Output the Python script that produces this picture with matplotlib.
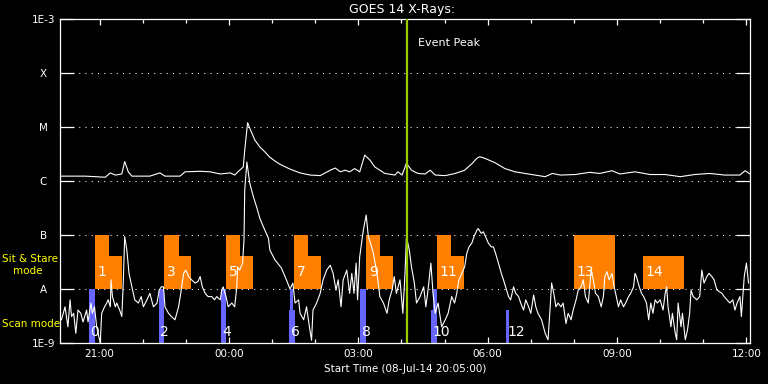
import numpy as np
import matplotlib
matplotlib.use('Agg')
import matplotlib.pyplot as plt
from matplotlib.ticker import MultipleLocator, FuncFormatter
import matplotlib.transforms as mtransforms

# time axis: hours of day, plot starts 08-Jul-14 20:05
t_start = 20 + 5 / 60.
t_end = t_start + 16

# GOES 14 long channel (1-8 A): minutes after start, log10 flux (W/m^2)
long_min = [0, 35, 63, 70, 77, 86, 90, 95, 100, 125, 139, 146, 167, 174, 195, 209, 223, 237,
            243, 250, 255, 257, 261, 264, 271, 278, 285, 292, 299, 306, 320, 334, 348, 362,
            376, 383, 390, 397, 403, 410, 417, 424, 431, 438, 452, 466, 470, 476, 482, 489,
            498, 508, 515, 522, 536, 550, 563, 573, 580, 584, 591, 605, 619, 633, 647, 661,
            675, 685, 696, 717, 737, 751, 768, 779, 800, 821, 842, 863, 883, 904, 925, 946,
            953, 960]
long_log = [-5.91, -5.91, -5.93, -5.85, -5.89, -5.87, -5.64, -5.83, -5.91, -5.91, -5.85, -5.91,
            -5.91, -5.83, -5.82, -5.83, -5.87, -5.85, -5.89, -5.80, -5.74, -5.43, -4.92, -5.02,
            -5.24, -5.37, -5.46, -5.56, -5.63, -5.69, -5.78, -5.85, -5.89, -5.90, -5.80, -5.76,
            -5.83, -5.80, -5.83, -5.77, -5.83, -5.52, -5.61, -5.74, -5.86, -5.89, -5.83, -5.89,
            -5.67, -5.80, -5.86, -5.87, -5.80, -5.89, -5.90, -5.86, -5.80, -5.68, -5.58, -5.55,
            -5.58, -5.66, -5.77, -5.83, -5.86, -5.89, -5.92, -5.86, -5.89, -5.88, -5.84, -5.86,
            -5.81, -5.87, -5.83, -5.88, -5.88, -5.92, -5.88, -5.86, -5.89, -5.89, -5.81, -5.87]

# GOES 14 short channel (0.5-4 A)
short_min = [2, 7, 11, 14, 16, 19, 22, 25, 29, 32, 37, 39, 43, 45, 48, 51, 56, 58, 62, 65,
             67, 70, 71, 73, 77, 79, 83, 86, 88, 90, 93, 96, 100, 104, 109, 113, 116, 121, 125, 130,
             135, 138, 141, 144, 146, 151, 155, 160, 165, 168, 172, 175, 179, 183, 188, 192, 195, 198, 202, 206,
             211, 215, 218, 223, 225, 227, 231, 234, 239, 243, 246, 247, 250, 254, 256, 257, 260, 264, 269, 274,
             278, 283, 290, 292, 299, 308, 315, 320, 324, 327, 332, 334, 339, 343, 347, 350, 352, 357, 362, 366,
             371, 376, 380, 384, 387, 391, 394, 399, 403, 406, 409, 412, 414, 417, 422, 426, 429, 432, 436, 441,
             445, 450, 455, 458, 462, 465, 468, 473, 477, 480, 482, 486, 489, 493, 496, 501, 506, 509, 512, 516,
             519, 522, 526, 531, 536, 540, 545, 549, 552, 555, 559, 563, 566, 569, 573, 576, 580, 582, 586, 589,
             592, 596, 600, 603, 606, 610, 614, 617, 620, 624, 627, 631, 634, 638, 641, 645, 648, 652, 655, 659,
             662, 665, 670, 675, 679, 682, 684, 687, 690, 693, 697, 700, 704, 707, 711, 714, 718, 721, 725, 728,
             731, 735, 739, 742, 745, 749, 753, 756, 758, 761, 764, 768, 771, 774, 777, 780, 784, 787, 791, 794,
             798, 800, 802, 806, 809, 812, 816, 819, 822, 825, 828, 831, 835, 839, 842, 844, 846, 850, 852, 856,
             858, 860, 864, 866, 870, 873, 876, 878, 881, 886, 890, 893, 896, 900, 903, 907, 910, 914, 921, 924,
             928, 932, 936, 939, 942, 946, 948, 952, 955, 958]
short_log = [-8.57, -8.33, -8.70, -8.20, -8.51, -8.45, -8.82, -8.39, -8.45, -8.61, -8.39, -8.61, -8.26, -8.45, -8.33, -8.70, -9.00, -8.45, -8.33, -8.26,
             -8.20, -8.33, -7.83, -8.14, -8.33, -8.26, -8.39, -8.51, -7.89, -7.03, -7.28, -7.71, -7.96, -8.20, -8.26, -8.14, -8.33, -8.20, -8.08, -8.33,
             -8.26, -8.02, -7.96, -7.96, -8.33, -8.45, -8.51, -8.57, -8.33, -8.08, -7.71, -7.65, -7.77, -7.83, -7.89, -7.86, -7.77, -7.96, -8.08, -8.14,
             -8.14, -8.20, -8.14, -8.20, -8.02, -7.96, -8.14, -8.33, -8.26, -8.33, -7.96, -7.59, -7.65, -7.52, -7.09, -6.17, -5.65, -6.04, -6.29, -6.50,
             -6.69, -6.85, -7.06, -7.28, -7.46, -7.61, -7.83, -8.00, -7.89, -8.26, -8.20, -8.45, -8.57, -8.33, -8.70, -8.95, -8.39, -8.26, -8.08, -7.83,
             -7.65, -7.56, -7.71, -8.02, -7.83, -8.33, -7.83, -7.65, -8.08, -7.71, -8.08, -7.52, -8.20, -7.40, -6.91, -6.63, -7.03, -7.15, -7.34, -7.71,
             -8.14, -8.26, -8.45, -8.20, -8.02, -7.77, -8.08, -7.83, -8.45, -7.71, -7.03, -7.28, -7.59, -7.89, -8.26, -8.14, -7.96, -8.33, -8.02, -7.52,
             -8.08, -8.45, -8.26, -8.70, -8.57, -8.45, -8.14, -8.26, -8.08, -7.83, -7.71, -7.59, -7.34, -7.22, -7.15, -7.03, -6.91, -6.88, -6.97, -6.94,
             -7.03, -7.15, -7.22, -7.22, -7.34, -7.52, -7.71, -7.83, -7.96, -8.14, -8.20, -7.96, -8.08, -8.14, -8.26, -8.39, -8.20, -8.33, -8.45, -8.11,
             -8.33, -8.45, -8.57, -8.82, -8.94, -8.33, -7.89, -8.08, -8.33, -8.26, -8.33, -8.26, -8.64, -8.45, -8.57, -8.39, -8.20, -8.02, -7.96, -7.83,
             -8.14, -8.26, -7.65, -7.83, -8.08, -8.14, -8.33, -8.14, -7.77, -7.68, -7.83, -7.71, -7.96, -8.14, -8.33, -8.20, -8.33, -8.26, -8.14, -8.08,
             -7.96, -7.71, -7.77, -7.96, -8.08, -8.14, -8.26, -8.57, -8.26, -8.45, -8.20, -8.26, -8.20, -8.39, -8.08, -7.96, -8.33, -8.70, -8.45, -8.82,
             -8.94, -8.26, -8.70, -8.45, -8.94, -8.76, -8.45, -8.02, -8.14, -8.20, -8.14, -7.65, -7.89, -7.77, -7.71, -7.77, -7.83, -8.02, -8.08, -8.14,
             -8.20, -8.26, -8.20, -8.39, -8.26, -8.14, -8.51, -7.77, -7.52, -7.89]

# sit & stare rasters: start, end of high part, end (minutes after start)
ss_num = ['1', '3', '5', '7', '9', '11', '13', '14']
ss_start = [49, 145, 231, 326, 426, 525, 715, 811]
ss_mid = [68, 165, 250, 345, 445, 544, 772, 811]
ss_end = [86, 182, 269, 363, 463, 562, 772, 868]
ss_high = 1e-7
ss_low = 4.1e-8

# scan rasters (pieces of blue bars)
scan_t0 = [40, 138, 224, 319, 320, 418, 516, 519, 621]
scan_t1 = [49, 145, 231, 327, 324, 426, 525, 525, 625]
scan_top = [1e-8, 1e-8, 1e-8, 4e-9, 1e-8, 1e-8, 4e-9, 1e-8, 4e-9]
scan_num = ['0', '2', '4', '6', '8', '10', '12']
scan_lab_t = [40, 138, 224, 319, 418, 516, 621]

event_peak_min = 483

levels = [1e-9, 1e-8, 1e-7, 1e-6, 1e-5, 1e-4, 1e-3]
level_names = ['1E-9', 'A', 'B', 'C', 'M', 'X', '1E-3']

def hrs(m):
    return t_start + np.asarray(m, dtype=float) / 60.

orange = '#ff8000'
blue = '#6666ff'
green = '#9ccc00'
yellow = '#ffff00'

plt.rcParams['font.family'] = ['DejaVu Sans']
fig = plt.figure(figsize=(7.68, 3.84), dpi=100, facecolor='black')
ax = fig.add_axes([60 / 768, 1 - 343 / 384, 690 / 768, 324 / 384], facecolor='black')
ax.set_yscale('log')
ax.set_ylim(1e-9, 1e-3)
ax.set_xlim(t_start, t_end)

# dotted level lines
for lv in levels[1:-1]:
    ax.axhline(lv, color='white', lw=0.75, ls=(0, (1, 5)), zorder=1)

# sit & stare blocks
for s, m, e in zip(ss_start, ss_mid, ss_end):
    if m > s:
        ax.bar(hrs(s), ss_high - 1e-8, width=(m - s) / 60., bottom=1e-8, align='edge',
               color=orange, lw=0, zorder=2)
    if e > m:
        ax.bar(hrs(m), ss_low - 1e-8, width=(e - m) / 60., bottom=1e-8, align='edge',
               color=orange, lw=0, zorder=2)
for n, s in zip(ss_num, ss_start):
    ax.text(hrs(s) + 0.06, 2.1e-8, n, color='white', fontsize=10, va='center', ha='left', zorder=5)

# scan bars
for a, b, top in zip(scan_t0, scan_t1, scan_top):
    ax.bar(hrs(a), top - 1e-9, width=(b - a) / 60., bottom=1e-9, align='edge',
           color=blue, lw=0, zorder=2)
for n, s in zip(scan_num, scan_lab_t):
    ax.text(hrs(s) + 0.03, 1.6e-9, n, color='white', fontsize=10, va='center', ha='left', zorder=5)

# GOES curves
ax.plot(hrs(long_min), 10 ** np.array(long_log), color='white', lw=0.8, zorder=4)
ax.plot(hrs(short_min), 10 ** np.array(short_log), color='white', lw=0.8, zorder=4)

# event peak
tp = hrs(event_peak_min)
ax.axvline(tp, color=green, lw=1.6, zorder=4.5)
trans = mtransforms.blended_transform_factory(ax.transData, ax.transAxes)
ax.text(tp + 0.25, 0.926, 'Event Peak', color='white', fontsize=8, transform=trans,
        ha='left', va='center')

# axes styling
for sp in ax.spines.values():
    sp.set_color('white')
    sp.set_linewidth(0.9)
ax.set_yticks(levels)
ax.set_yticklabels(level_names)
ax.yaxis.set_minor_locator(plt.NullLocator())
ax.tick_params(axis='y', which='major', direction='in', length=10, width=0.9, colors='white',
               left=True, right=True, labelsize=7.5, pad=12)
for lab in ax.get_yticklabels():
    lab.set_ha('center')
ax.xaxis.set_major_locator(MultipleLocator(3))
ax.xaxis.set_minor_locator(MultipleLocator(1))
ax.xaxis.set_major_formatter(FuncFormatter(lambda x, pos: '%02d:00' % (int(round(x)) % 24)))
ax.tick_params(axis='x', which='major', direction='in', length=4.5, width=0.9, colors='white',
               top=True, bottom=True, labelsize=7.5, pad=4)
ax.tick_params(axis='x', which='minor', direction='in', length=3, width=0.9, colors='white',
               top=True, bottom=True)

# titles and side labels
fig.text(402 / 768, 1 - 9 / 384, 'GOES 14 X-Rays:', color='white', fontsize=9, ha='center', va='center')
fig.text(405 / 768, 1 - 369 / 384, 'Start Time (08-Jul-14 20:05:00)', color='white', fontsize=7.5,
         ha='center', va='center')
fig.text(2 / 768, 1 - 259 / 384, 'Sit & Stare', color=yellow, fontsize=7.5, ha='left', va='center')
fig.text(13 / 768, 1 - 271 / 384, 'mode', color=yellow, fontsize=7.5, ha='left', va='center')
fig.text(2 / 768, 1 - 324 / 384, 'Scan mode', color=yellow, fontsize=7.5, ha='left', va='center')

fig.savefig('out.png', dpi=100, facecolor='black')
